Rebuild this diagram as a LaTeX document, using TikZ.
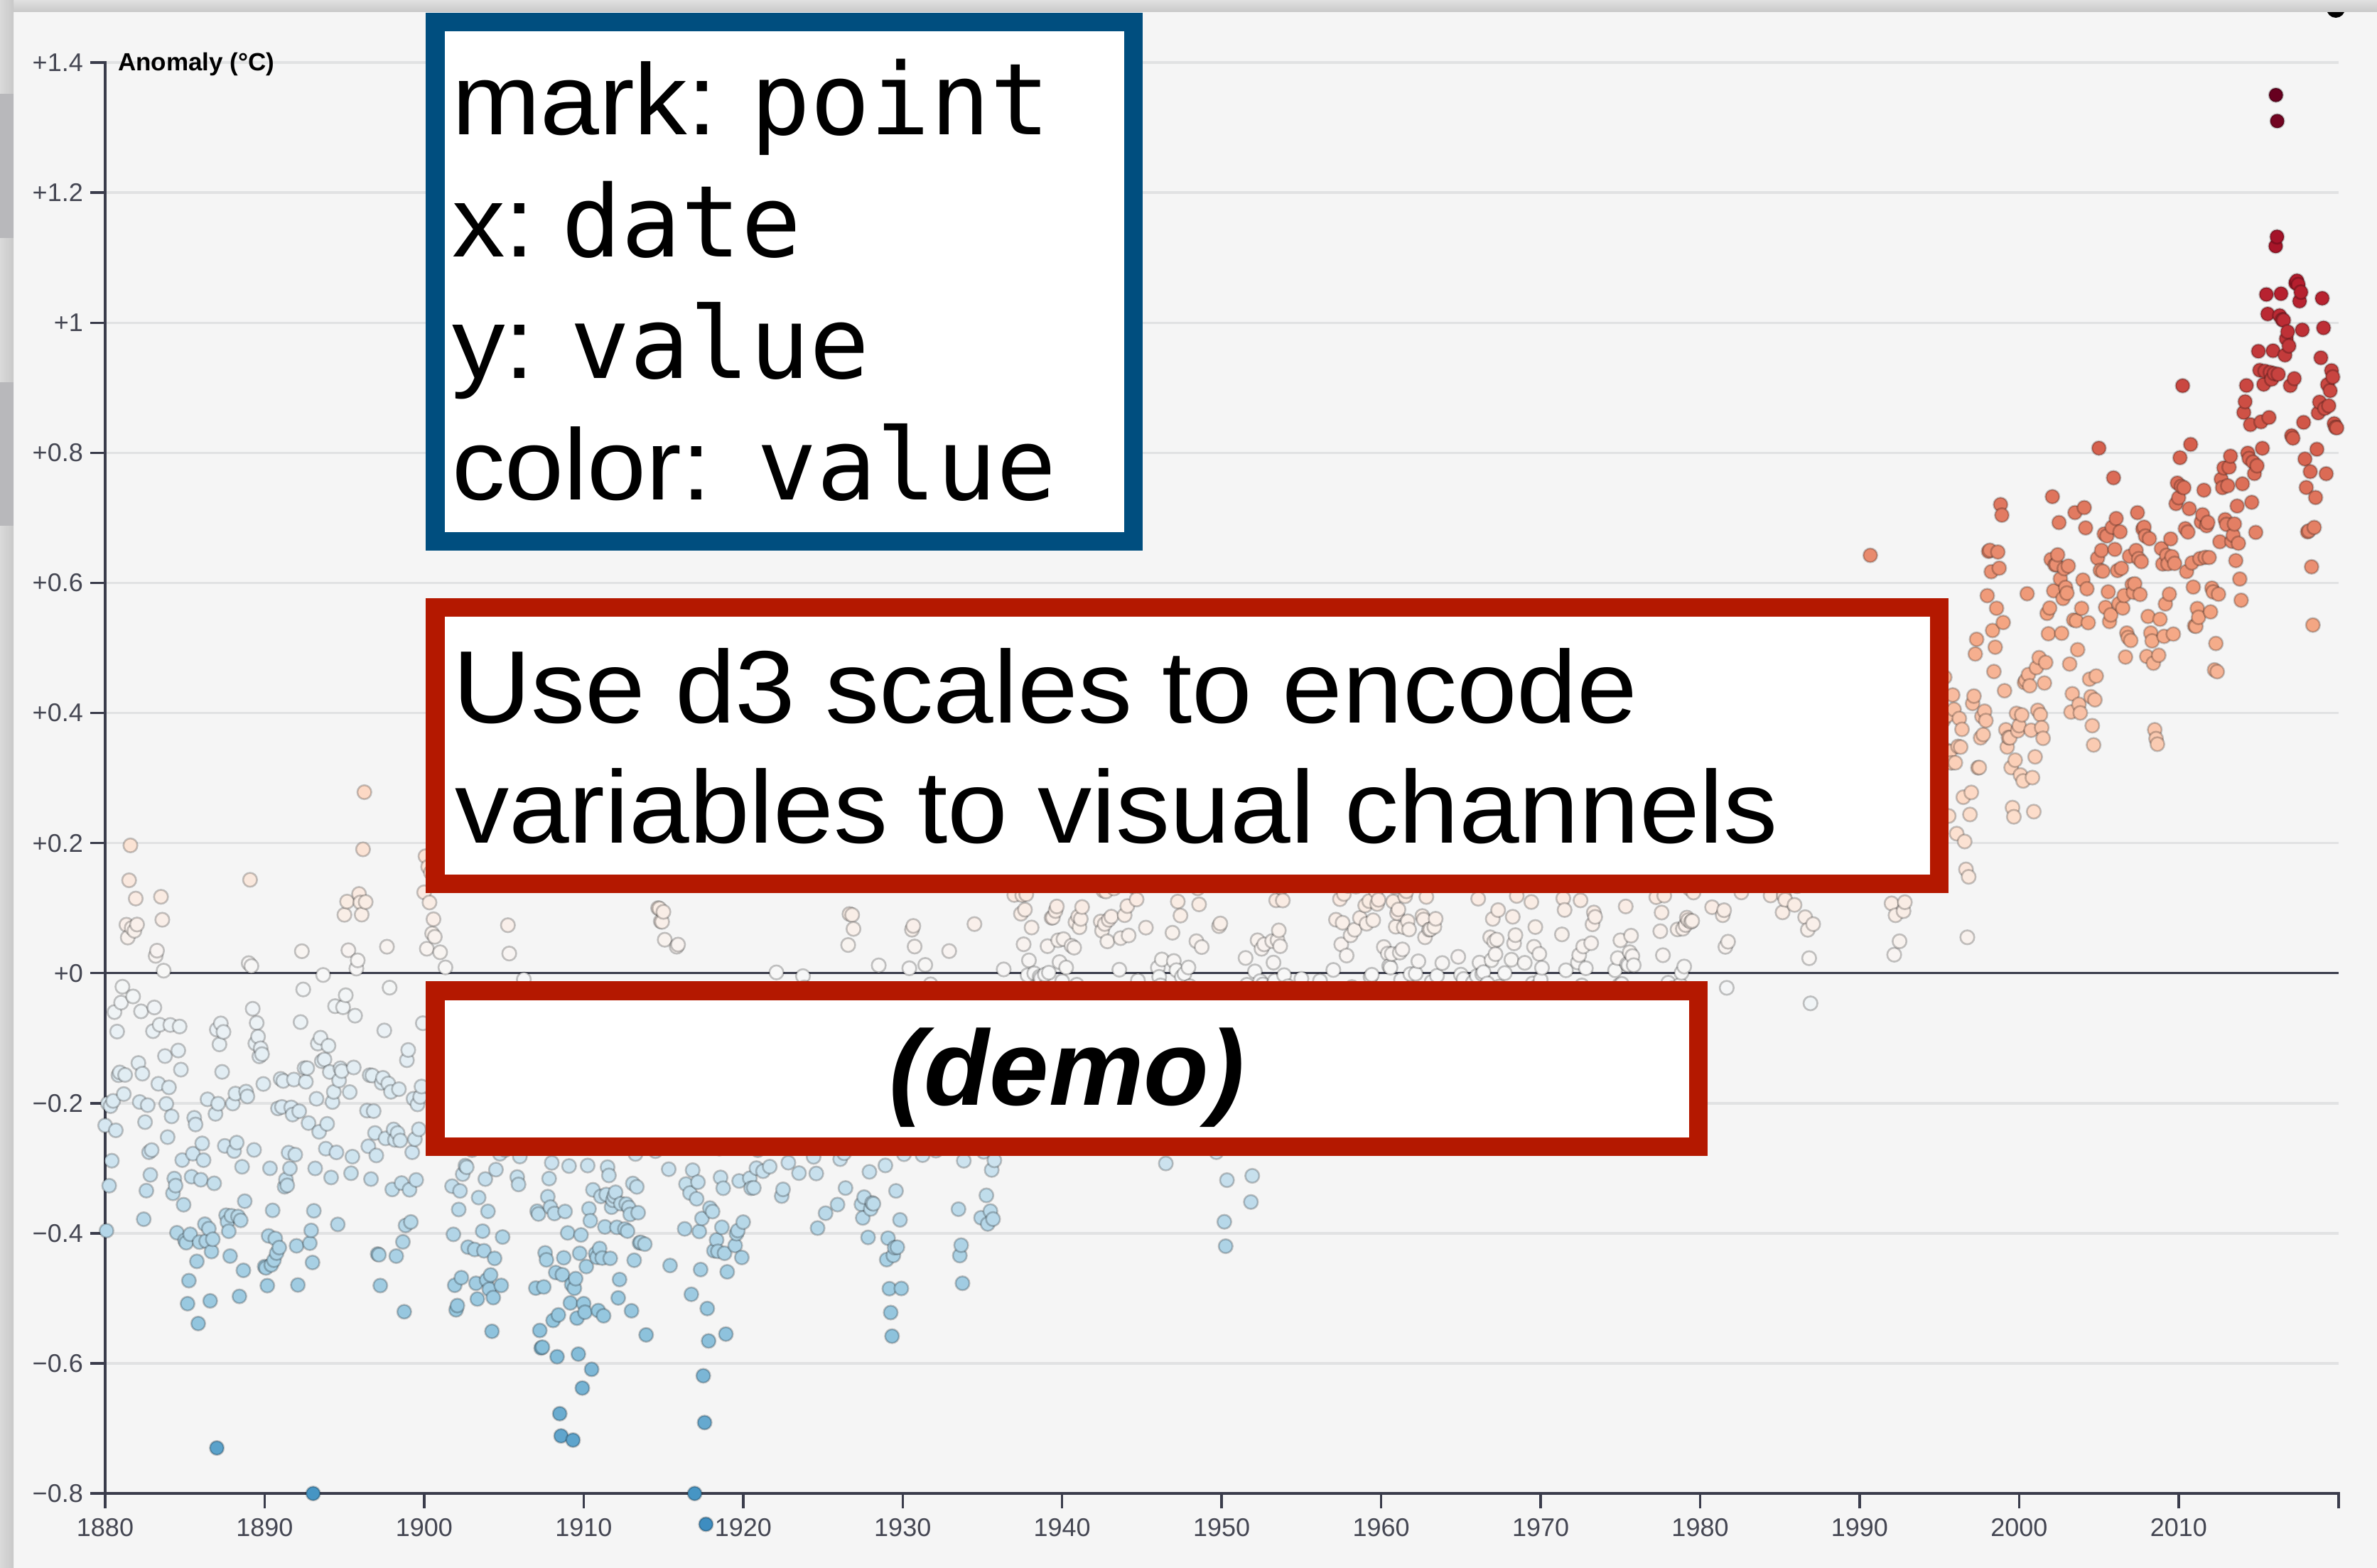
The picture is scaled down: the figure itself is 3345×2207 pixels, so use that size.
\documentclass[tikz,border=0pt]{standalone}
\usepackage{fontspec}
\setmainfont{Liberation Sans}
\newfontfamily\axisfont{Liberation Sans}
\newfontfamily\boxsans[FakeStretch=1.05]{Liberation Sans}
\newfontfamily\boxmono{DejaVu Sans Mono}
\definecolor{rb0}{HTML}{67001F}
\definecolor{rb1}{HTML}{B2182B}
\definecolor{rb2}{HTML}{D6604D}
\definecolor{rb3}{HTML}{F4A582}
\definecolor{rb4}{HTML}{FDDBC7}
\definecolor{rb5}{HTML}{F7F7F7}
\definecolor{rb6}{HTML}{D1E5F0}
\definecolor{rb7}{HTML}{92C5DE}
\definecolor{rb8}{HTML}{4393C3}
\definecolor{rb9}{HTML}{2166AC}
\definecolor{rb10}{HTML}{053061}
\definecolor{bgc}{HTML}{F5F5F5}
\definecolor{axisc}{RGB}{58,60,75}
\definecolor{labelc}{RGB}{68,70,82}
\definecolor{boxblue}{RGB}{0,78,127}
\definecolor{boxred}{RGB}{180,24,0}
\definecolor{chromed}{RGB}{184,184,187}
\newcommand\plotdot[3]{%
  \pgfmathsetmacro\dtt{min(max((1.35-(#3))/2.7,0),0.9999)*10}%
  \pgfmathtruncatemacro\kk{floor(\dtt)}%
  \pgfmathtruncatemacro\kn{\kk+1}%
  \pgfmathsetmacro\pc{(1-(\dtt-\kk))*100}%
  \path[dotstyle, fill=rb\kk!\pc!rb\kn] (#1,#2) circle[radius=9.8pt];%
}
\begin{document}
\begin{tikzpicture}[x=1pt,y=-1pt,
  gridl/.style={line width=3.4pt, draw=axisc, draw opacity=0.1},
  axisl/.style={line width=3.4pt, draw=axisc},
  ticklab/.style={font=\axisfont\fontsize{36}{40}\selectfont, text=labelc, inner sep=0pt},
  dotstyle/.style={draw=black, draw opacity=0.22, line width=2.6pt},
  boxframe/.style={line width=26.5pt, fill=white},
  bluetxt/.style={inner sep=0pt, anchor=base west, font=\boxsans\fontsize{142}{160}\selectfont},
  monotxt/.style={inner sep=0pt, anchor=base west, font=\boxmono\fontsize{140}{160}\selectfont},
  redtxt/.style={inner sep=0pt, anchor=base west, font=\boxsans\fontsize{145}{170}\selectfont}]
\useasboundingbox (0,0) rectangle (3345,2207);
\fill[bgc] (0,0) rectangle (3345,2207);
% grid lines
\foreach \gv in {1.4,1.2,1,0.8,0.6,0.4,0.2,-0.2,-0.4,-0.6}{
  \draw[gridl] (148,{1369.7-915.5*\gv}) -- (3291,{1369.7-915.5*\gv});
}
% zero line
\draw[axisl] (127,1369.7) -- (3291,1369.7);
% y axis
\draw[axisl] (127,{1369.7-915.5*1.4}) -- (148,{1369.7-915.5*1.4}) -- (148,{1369.7+915.5*0.8}) -- (127,{1369.7+915.5*0.8});
\foreach \gv/\lab [count=\i] in {1.4/+1.4,1.2/+1.2,1/+1,0.8/+0.8,0.6/+0.6,0.4/+0.4,0.2/+0.2,0/+0,-0.2/−0.2,-0.4/−0.4,-0.6/−0.6,-0.8/−0.8}{
  \draw[axisl] (127,{1369.7-915.5*\gv}) -- (148,{1369.7-915.5*\gv});
  \node[ticklab, anchor=east] (yl\i) at (117,{1369.7-915.5*\gv}) {\lab};
}
\node[inner sep=0pt, anchor=base west, font=\axisfont\bfseries\fontsize{35}{40}\selectfont] (ylab) at (166,100) {Anomaly (°C)};
% x axis
\draw[axisl] (148,2123) -- (148,2102) -- (3291,2102) -- (3291,2123);
\foreach \yr [count=\i] in {1880,1890,...,2010}{
  \draw[axisl] ({148+(\yr-1880)*22.445},2102) -- ({148+(\yr-1880)*22.445},2123);
  \node[ticklab, anchor=base] (xl\i) at ({148+(\yr-1880)*22.445},2162) {\yr};
}
% data points
\pgfmathsetseed{20190}
\gdef\arst{0}
\foreach \yr/\av in {1880/-0.16,1881/-0.08,1882/-0.11,1883/-0.17,1884/-0.28,1885/-0.33,1886/-0.31,1887/-0.36,1888/-0.17,1889/-0.10,
1890/-0.35,1891/-0.22,1892/-0.27,1893/-0.31,1894/-0.30,1895/-0.22,1896/-0.11,1897/-0.11,1898/-0.27,1899/-0.17,
1900/-0.08,1901/-0.15,1902/-0.28,1903/-0.37,1904/-0.47,1905/-0.26,1906/-0.22,1907/-0.39,1908/-0.43,1909/-0.48,
1910/-0.43,1911/-0.44,1912/-0.36,1913/-0.34,1914/-0.15,1915/-0.14,1916/-0.36,1917/-0.46,1918/-0.29,1919/-0.27,
1920/-0.27,1921/-0.19,1922/-0.28,1923/-0.26,1924/-0.27,1925/-0.22,1926/-0.10,1927/-0.22,1928/-0.20,1929/-0.36,
1930/-0.16,1931/-0.10,1932/-0.16,1933/-0.29,1934/-0.13,1935/-0.20,1936/-0.15,1937/-0.03,1938/-0.00,1939/-0.02,
1940/0.10,1941/0.14,1942/0.05,1943/0.07,1944/0.15,1945/0.06,1946/-0.07,1947/-0.03,1948/-0.11,1949/-0.11,
1950/-0.17,1951/-0.07,1952/0.01,1953/0.08,1954/-0.13,1955/-0.14,1956/-0.19,1957/0.05,1958/0.06,1959/0.03,
1960/-0.03,1961/0.06,1962/0.03,1963/0.05,1964/-0.20,1965/-0.11,1966/-0.06,1967/-0.02,1968/-0.08,1969/0.05,
1970/0.03,1971/-0.08,1972/0.01,1973/0.16,1974/-0.07,1975/-0.01,1976/-0.10,1977/0.18,1978/0.07,1979/0.16,
1980/0.26,1981/0.32,1982/0.14,1983/0.31,1984/0.16,1985/0.12,1986/0.18,1987/0.32,1988/0.39,1989/0.27,
1990/0.45,1991/0.40,1992/0.22,1993/0.23,1994/0.31,1995/0.45,1996/0.33,1997/0.44,1998/0.58,1999/0.38,
2000/0.39,2001/0.52,2002/0.60,2003/0.60,2004/0.52,2005/0.64,2006/0.60,2007/0.63,2008/0.52,2009/0.62,
2010/0.68,2011/0.58,2012/0.62,2013/0.65,2014/0.72,2015/0.86,2016/0.96,2017/0.88,2018/0.80,2019/0.88}{%
  \foreach \mo in {0,...,11}{%
    \pgfmathsetmacro\sig{ifthenelse(\yr<1920,0.11,ifthenelse(\yr<1950,0.095,0.07))}%
    \pgfmathsetmacro\newar{0.6*(\arst)+\sig*(rand+rand+rand)}%
    \xdef\arst{\newar}%
    \pgfmathsetmacro\vval{\av+(\arst)}%
    \pgfmathsetmacro\xx{148+(\yr-1880+\mo/12)*22.445}%
    \pgfmathsetmacro\yy{1369.7-915.5*(\vval)}%
    \plotdot{\xx}{\yy}{\vval}%
  }%
}
\foreach \yr/\vv in {1887.0/-0.73,1893.04/-0.80,1916.96/-0.80,2016.1/1.35,2016.18/1.31}{
  \pgfmathsetmacro\xx{148+(\yr-1880)*22.445}
  \pgfmathsetmacro\yy{1369.7-915.5*(\vv)}
  \plotdot{\xx}{\yy}{\vv}
}
% annotation boxes
\draw[boxblue, boxframe] (612.25,31.25) rectangle (1594.75,761.75);
\node[bluetxt] (l1) at (636,190) {mark:};
\node[monotxt] (v1) at (1056,190) {point};
\node[bluetxt] (l2) at (636,361) {x:};
\node[monotxt] (v2) at (790,361) {date};
\node[bluetxt] (l3) at (636,532) {y:};
\node[monotxt] (v3) at (802,532) {value};
\node[bluetxt] (l4) at (636,703) {color:};
\node[monotxt] (v4) at (1065,703) {value};
\draw[boxred, boxframe] (612.25,854.75) rectangle (2728.75,1243.75);
\node[redtxt] (r1) at (637,1017) {Use d3 scales to encode};
\node[redtxt] (r2) at (640,1186) {variables to visual channels};
\draw[boxred, boxframe] (612.25,1394.25) rectangle (2389.75,1613.75);
\node[inner sep=0pt, anchor=base, font=\axisfont\bfseries\itshape\fontsize{150}{160}\selectfont] (demo) at (1501,1555) {(demo)};
% window chrome
\fill[black] (3287,12) circle[radius=13pt];
\shade[top color={rgb,255:red,224;green,224;blue,224}, bottom color={rgb,255:red,200;green,200;blue,200}] (0,0) rectangle (3345,17);
\shade[left color={rgb,255:red,218;green,218;blue,218}, right color={rgb,255:red,200;green,200;blue,200}] (0,0) rectangle (19,2207);
\fill[chromed] (0,132) rectangle (19,335);
\fill[chromed] (0,538) rectangle (19,740);
\end{tikzpicture}
\end{document}
